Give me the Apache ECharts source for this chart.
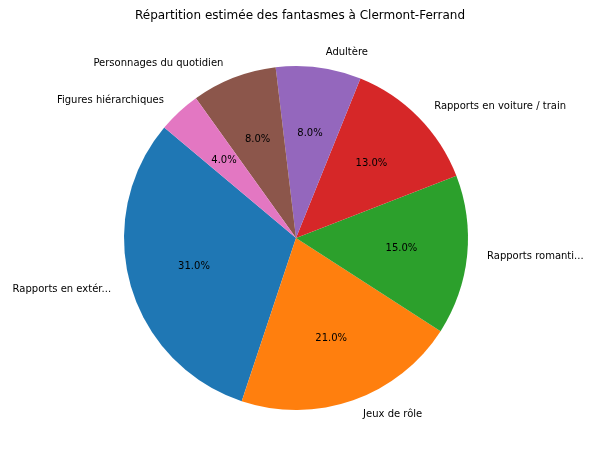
<!DOCTYPE html><html><head><meta charset="utf-8"><script src="https://cdn.jsdelivr.net/npm/echarts@6/dist/echarts.min.js"></script></head><body style="margin:0"><div id="c" style="width:600px;height:461px"></div><script>
const categories=["Rapports en extérieur","Jeux de rôle","Rapports romantiques","Rapports en voiture / train","Adultère","Personnages du quotidien","Figures hiérarchiques"];
const values=[31,21,15,13,8,8,4];
const colors=['#1f77b4','#ff7f0e','#2ca02c','#d62728','#9467bd','#8c564b','#e377c2'];
const data=categories.map((n,i)=>({name:n,value:values[i],itemStyle:{color:colors[i]}}));
const font={fontFamily:'DejaVu Sans',fontSize:10,color:'#000'};
const c=echarts.init(document.getElementById('c'));
c.setOption({animation:false,
title:{text:'Répartition estimée des fantasmes à Clermont-Ferrand',left:'center',top:5,textStyle:{fontFamily:'DejaVu Sans',fontSize:12,fontWeight:'normal',color:'#000'}},
series:[
{type:'pie',center:[296,238],radius:[0,172],startAngle:140,clockwise:false,data:data,
 label:{show:true,position:'outside',...font},labelLine:{show:true,length:15,length2:0,lineStyle:{opacity:0}},
 emphasis:{disabled:true},silent:true},
{type:'pie',center:[296,238],radius:[0,206],startAngle:140,clockwise:false,silent:true,
 data:data.map(d=>({name:d.name,value:d.value,itemStyle:{color:'transparent'}})),
 label:{show:true,position:'inner',formatter:p=>p.value.toFixed(1)+'%',...font},labelLine:{show:false},emphasis:{disabled:true}}
]});
</script></body></html>
